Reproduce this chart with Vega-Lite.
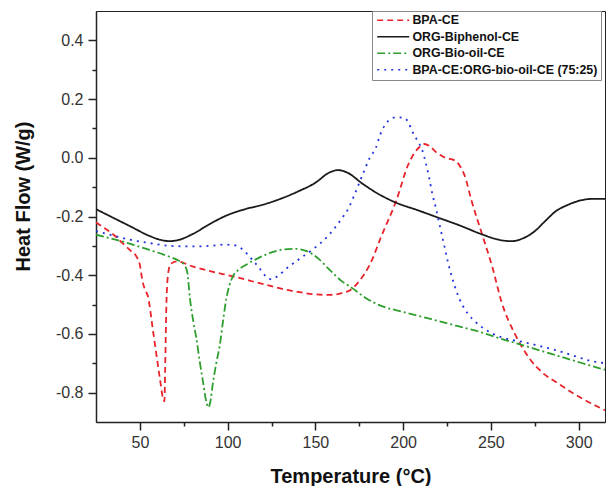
{
  "$schema": "https://vega.github.io/schema/vega-lite/v6.json",
  "width": 509,
  "height": 411,
  "autosize": {"type": "none"},
  "padding": {"left": 96, "top": 11, "right": 1, "bottom": 64},
  "background": "white",
  "config": {
    "view": {"stroke": "#222", "strokeWidth": 1},
    "axis": {
      "grid": false,
      "domainColor": "#222",
      "domainWidth": 1.5,
      "tickColor": "#222",
      "tickWidth": 1.5,
      "labelFont": "Liberation Sans",
      "labelFontSize": 16,
      "labelColor": "#333",
      "titleFont": "Liberation Sans",
      "titleFontSize": 20,
      "titleFontWeight": "bold",
      "titleColor": "#111"
    }
  },
  "data": {
    "values": [
      {"s": "BPA-CE", "T": 25, "v": -0.22},
      {"s": "BPA-CE", "T": 30, "v": -0.24},
      {"s": "BPA-CE", "T": 35, "v": -0.262},
      {"s": "BPA-CE", "T": 40, "v": -0.29},
      {"s": "BPA-CE", "T": 45, "v": -0.318},
      {"s": "BPA-CE", "T": 48, "v": -0.336},
      {"s": "BPA-CE", "T": 50, "v": -0.365},
      {"s": "BPA-CE", "T": 51.5, "v": -0.42},
      {"s": "BPA-CE", "T": 53, "v": -0.45},
      {"s": "BPA-CE", "T": 54.5, "v": -0.47},
      {"s": "BPA-CE", "T": 57.5, "v": -0.59},
      {"s": "BPA-CE", "T": 61.4, "v": -0.752},
      {"s": "BPA-CE", "T": 63.2, "v": -0.82},
      {"s": "BPA-CE", "T": 64, "v": -0.83},
      {"s": "BPA-CE", "T": 64.4, "v": -0.72},
      {"s": "BPA-CE", "T": 65.2, "v": -0.48},
      {"s": "BPA-CE", "T": 66.2, "v": -0.39},
      {"s": "BPA-CE", "T": 67.5, "v": -0.362},
      {"s": "BPA-CE", "T": 71, "v": -0.353},
      {"s": "BPA-CE", "T": 80, "v": -0.37},
      {"s": "BPA-CE", "T": 90, "v": -0.386},
      {"s": "BPA-CE", "T": 103, "v": -0.404},
      {"s": "BPA-CE", "T": 118, "v": -0.427},
      {"s": "BPA-CE", "T": 130, "v": -0.445},
      {"s": "BPA-CE", "T": 140, "v": -0.457},
      {"s": "BPA-CE", "T": 150, "v": -0.465},
      {"s": "BPA-CE", "T": 158, "v": -0.467},
      {"s": "BPA-CE", "T": 165, "v": -0.461},
      {"s": "BPA-CE", "T": 170, "v": -0.45},
      {"s": "BPA-CE", "T": 175, "v": -0.42},
      {"s": "BPA-CE", "T": 181, "v": -0.364},
      {"s": "BPA-CE", "T": 188, "v": -0.261},
      {"s": "BPA-CE", "T": 196, "v": -0.147},
      {"s": "BPA-CE", "T": 203, "v": -0.022},
      {"s": "BPA-CE", "T": 209, "v": 0.035},
      {"s": "BPA-CE", "T": 212, "v": 0.047},
      {"s": "BPA-CE", "T": 215, "v": 0.04},
      {"s": "BPA-CE", "T": 219, "v": 0.018},
      {"s": "BPA-CE", "T": 224, "v": 0.0},
      {"s": "BPA-CE", "T": 229, "v": -0.008},
      {"s": "BPA-CE", "T": 232, "v": -0.025},
      {"s": "BPA-CE", "T": 235, "v": -0.06},
      {"s": "BPA-CE", "T": 239, "v": -0.147},
      {"s": "BPA-CE", "T": 245, "v": -0.261},
      {"s": "BPA-CE", "T": 251, "v": -0.376},
      {"s": "BPA-CE", "T": 256, "v": -0.49},
      {"s": "BPA-CE", "T": 264, "v": -0.604},
      {"s": "BPA-CE", "T": 272, "v": -0.684},
      {"s": "BPA-CE", "T": 280, "v": -0.735},
      {"s": "BPA-CE", "T": 287, "v": -0.764},
      {"s": "BPA-CE", "T": 295, "v": -0.795},
      {"s": "BPA-CE", "T": 302, "v": -0.82},
      {"s": "BPA-CE", "T": 315, "v": -0.86},

      {"s": "ORG-Biphenol-CE", "T": 25, "v": -0.175},
      {"s": "ORG-Biphenol-CE", "T": 35, "v": -0.205},
      {"s": "ORG-Biphenol-CE", "T": 45, "v": -0.235},
      {"s": "ORG-Biphenol-CE", "T": 55, "v": -0.265},
      {"s": "ORG-Biphenol-CE", "T": 62, "v": -0.28},
      {"s": "ORG-Biphenol-CE", "T": 67, "v": -0.284},
      {"s": "ORG-Biphenol-CE", "T": 72, "v": -0.28},
      {"s": "ORG-Biphenol-CE", "T": 80, "v": -0.26},
      {"s": "ORG-Biphenol-CE", "T": 90, "v": -0.225},
      {"s": "ORG-Biphenol-CE", "T": 100, "v": -0.195},
      {"s": "ORG-Biphenol-CE", "T": 110, "v": -0.175},
      {"s": "ORG-Biphenol-CE", "T": 120, "v": -0.16},
      {"s": "ORG-Biphenol-CE", "T": 130, "v": -0.14},
      {"s": "ORG-Biphenol-CE", "T": 140, "v": -0.115},
      {"s": "ORG-Biphenol-CE", "T": 150, "v": -0.085},
      {"s": "ORG-Biphenol-CE", "T": 158, "v": -0.05},
      {"s": "ORG-Biphenol-CE", "T": 163, "v": -0.042},
      {"s": "ORG-Biphenol-CE", "T": 168, "v": -0.05},
      {"s": "ORG-Biphenol-CE", "T": 177, "v": -0.089},
      {"s": "ORG-Biphenol-CE", "T": 185, "v": -0.12},
      {"s": "ORG-Biphenol-CE", "T": 196, "v": -0.153},
      {"s": "ORG-Biphenol-CE", "T": 208, "v": -0.178},
      {"s": "ORG-Biphenol-CE", "T": 220, "v": -0.204},
      {"s": "ORG-Biphenol-CE", "T": 232, "v": -0.23},
      {"s": "ORG-Biphenol-CE", "T": 245, "v": -0.261},
      {"s": "ORG-Biphenol-CE", "T": 255, "v": -0.28},
      {"s": "ORG-Biphenol-CE", "T": 262, "v": -0.284},
      {"s": "ORG-Biphenol-CE", "T": 268, "v": -0.275},
      {"s": "ORG-Biphenol-CE", "T": 275, "v": -0.25},
      {"s": "ORG-Biphenol-CE", "T": 281, "v": -0.215},
      {"s": "ORG-Biphenol-CE", "T": 287, "v": -0.182},
      {"s": "ORG-Biphenol-CE", "T": 294, "v": -0.16},
      {"s": "ORG-Biphenol-CE", "T": 300, "v": -0.147},
      {"s": "ORG-Biphenol-CE", "T": 308, "v": -0.14},
      {"s": "ORG-Biphenol-CE", "T": 315, "v": -0.14},

      {"s": "ORG-Bio-oil-CE", "T": 25, "v": -0.262},
      {"s": "ORG-Bio-oil-CE", "T": 40, "v": -0.285},
      {"s": "ORG-Bio-oil-CE", "T": 55, "v": -0.313},
      {"s": "ORG-Bio-oil-CE", "T": 65, "v": -0.333},
      {"s": "ORG-Bio-oil-CE", "T": 72, "v": -0.35},
      {"s": "ORG-Bio-oil-CE", "T": 75, "v": -0.362},
      {"s": "ORG-Bio-oil-CE", "T": 77, "v": -0.39},
      {"s": "ORG-Bio-oil-CE", "T": 78.5, "v": -0.478},
      {"s": "ORG-Bio-oil-CE", "T": 80.5, "v": -0.56},
      {"s": "ORG-Bio-oil-CE", "T": 82.2, "v": -0.615},
      {"s": "ORG-Bio-oil-CE", "T": 84, "v": -0.69},
      {"s": "ORG-Bio-oil-CE", "T": 86, "v": -0.764},
      {"s": "ORG-Bio-oil-CE", "T": 88, "v": -0.835},
      {"s": "ORG-Bio-oil-CE", "T": 89, "v": -0.85},
      {"s": "ORG-Bio-oil-CE", "T": 90, "v": -0.835},
      {"s": "ORG-Bio-oil-CE", "T": 91.7, "v": -0.764},
      {"s": "ORG-Bio-oil-CE", "T": 93.5, "v": -0.7},
      {"s": "ORG-Bio-oil-CE", "T": 95.5, "v": -0.64},
      {"s": "ORG-Bio-oil-CE", "T": 97.5, "v": -0.55},
      {"s": "ORG-Bio-oil-CE", "T": 99.3, "v": -0.478},
      {"s": "ORG-Bio-oil-CE", "T": 101, "v": -0.435},
      {"s": "ORG-Bio-oil-CE", "T": 103, "v": -0.404},
      {"s": "ORG-Bio-oil-CE", "T": 106.5, "v": -0.38},
      {"s": "ORG-Bio-oil-CE", "T": 110.6, "v": -0.364},
      {"s": "ORG-Bio-oil-CE", "T": 118, "v": -0.34},
      {"s": "ORG-Bio-oil-CE", "T": 125, "v": -0.322},
      {"s": "ORG-Bio-oil-CE", "T": 132, "v": -0.312},
      {"s": "ORG-Bio-oil-CE", "T": 138, "v": -0.31},
      {"s": "ORG-Bio-oil-CE", "T": 145, "v": -0.318},
      {"s": "ORG-Bio-oil-CE", "T": 152, "v": -0.345},
      {"s": "ORG-Bio-oil-CE", "T": 158, "v": -0.381},
      {"s": "ORG-Bio-oil-CE", "T": 165, "v": -0.42},
      {"s": "ORG-Bio-oil-CE", "T": 171, "v": -0.444},
      {"s": "ORG-Bio-oil-CE", "T": 178, "v": -0.475},
      {"s": "ORG-Bio-oil-CE", "T": 186, "v": -0.501},
      {"s": "ORG-Bio-oil-CE", "T": 200, "v": -0.525},
      {"s": "ORG-Bio-oil-CE", "T": 215, "v": -0.548},
      {"s": "ORG-Bio-oil-CE", "T": 230, "v": -0.572},
      {"s": "ORG-Bio-oil-CE", "T": 243, "v": -0.592},
      {"s": "ORG-Bio-oil-CE", "T": 255, "v": -0.615},
      {"s": "ORG-Bio-oil-CE", "T": 268, "v": -0.638},
      {"s": "ORG-Bio-oil-CE", "T": 280, "v": -0.66},
      {"s": "ORG-Bio-oil-CE", "T": 290, "v": -0.678},
      {"s": "ORG-Bio-oil-CE", "T": 300, "v": -0.696},
      {"s": "ORG-Bio-oil-CE", "T": 312, "v": -0.717},
      {"s": "ORG-Bio-oil-CE", "T": 315, "v": -0.722},

      {"s": "BPA-CE:ORG-bio-oil-CE (75:25)", "T": 25, "v": -0.25},
      {"s": "BPA-CE:ORG-bio-oil-CE (75:25)", "T": 35, "v": -0.265},
      {"s": "BPA-CE:ORG-bio-oil-CE (75:25)", "T": 45, "v": -0.28},
      {"s": "BPA-CE:ORG-bio-oil-CE (75:25)", "T": 55, "v": -0.29},
      {"s": "BPA-CE:ORG-bio-oil-CE (75:25)", "T": 67, "v": -0.3},
      {"s": "BPA-CE:ORG-bio-oil-CE (75:25)", "T": 80, "v": -0.302},
      {"s": "BPA-CE:ORG-bio-oil-CE (75:25)", "T": 90, "v": -0.3},
      {"s": "BPA-CE:ORG-bio-oil-CE (75:25)", "T": 98, "v": -0.296},
      {"s": "BPA-CE:ORG-bio-oil-CE (75:25)", "T": 103, "v": -0.297},
      {"s": "BPA-CE:ORG-bio-oil-CE (75:25)", "T": 108, "v": -0.31},
      {"s": "BPA-CE:ORG-bio-oil-CE (75:25)", "T": 113, "v": -0.34},
      {"s": "BPA-CE:ORG-bio-oil-CE (75:25)", "T": 118, "v": -0.375},
      {"s": "BPA-CE:ORG-bio-oil-CE (75:25)", "T": 122, "v": -0.405},
      {"s": "BPA-CE:ORG-bio-oil-CE (75:25)", "T": 125, "v": -0.414},
      {"s": "BPA-CE:ORG-bio-oil-CE (75:25)", "T": 128, "v": -0.405},
      {"s": "BPA-CE:ORG-bio-oil-CE (75:25)", "T": 135, "v": -0.37},
      {"s": "BPA-CE:ORG-bio-oil-CE (75:25)", "T": 142, "v": -0.34},
      {"s": "BPA-CE:ORG-bio-oil-CE (75:25)", "T": 150, "v": -0.305},
      {"s": "BPA-CE:ORG-bio-oil-CE (75:25)", "T": 158, "v": -0.261},
      {"s": "BPA-CE:ORG-bio-oil-CE (75:25)", "T": 164, "v": -0.215},
      {"s": "BPA-CE:ORG-bio-oil-CE (75:25)", "T": 169, "v": -0.17},
      {"s": "BPA-CE:ORG-bio-oil-CE (75:25)", "T": 173, "v": -0.115},
      {"s": "BPA-CE:ORG-bio-oil-CE (75:25)", "T": 177, "v": -0.056},
      {"s": "BPA-CE:ORG-bio-oil-CE (75:25)", "T": 181, "v": 0.0},
      {"s": "BPA-CE:ORG-bio-oil-CE (75:25)", "T": 184.5, "v": 0.035},
      {"s": "BPA-CE:ORG-bio-oil-CE (75:25)", "T": 187, "v": 0.08},
      {"s": "BPA-CE:ORG-bio-oil-CE (75:25)", "T": 190, "v": 0.115},
      {"s": "BPA-CE:ORG-bio-oil-CE (75:25)", "T": 193, "v": 0.132},
      {"s": "BPA-CE:ORG-bio-oil-CE (75:25)", "T": 196, "v": 0.138},
      {"s": "BPA-CE:ORG-bio-oil-CE (75:25)", "T": 200.6, "v": 0.136},
      {"s": "BPA-CE:ORG-bio-oil-CE (75:25)", "T": 203, "v": 0.12},
      {"s": "BPA-CE:ORG-bio-oil-CE (75:25)", "T": 205, "v": 0.092},
      {"s": "BPA-CE:ORG-bio-oil-CE (75:25)", "T": 208, "v": 0.06},
      {"s": "BPA-CE:ORG-bio-oil-CE (75:25)", "T": 211, "v": 0.024},
      {"s": "BPA-CE:ORG-bio-oil-CE (75:25)", "T": 213, "v": -0.02},
      {"s": "BPA-CE:ORG-bio-oil-CE (75:25)", "T": 214.8, "v": -0.067},
      {"s": "BPA-CE:ORG-bio-oil-CE (75:25)", "T": 216.5, "v": -0.12},
      {"s": "BPA-CE:ORG-bio-oil-CE (75:25)", "T": 218.6, "v": -0.17},
      {"s": "BPA-CE:ORG-bio-oil-CE (75:25)", "T": 221, "v": -0.235},
      {"s": "BPA-CE:ORG-bio-oil-CE (75:25)", "T": 223.3, "v": -0.296},
      {"s": "BPA-CE:ORG-bio-oil-CE (75:25)", "T": 225.5, "v": -0.355},
      {"s": "BPA-CE:ORG-bio-oil-CE (75:25)", "T": 228, "v": -0.41},
      {"s": "BPA-CE:ORG-bio-oil-CE (75:25)", "T": 231, "v": -0.465},
      {"s": "BPA-CE:ORG-bio-oil-CE (75:25)", "T": 233.7, "v": -0.501},
      {"s": "BPA-CE:ORG-bio-oil-CE (75:25)", "T": 237, "v": -0.532},
      {"s": "BPA-CE:ORG-bio-oil-CE (75:25)", "T": 241, "v": -0.558},
      {"s": "BPA-CE:ORG-bio-oil-CE (75:25)", "T": 246, "v": -0.582},
      {"s": "BPA-CE:ORG-bio-oil-CE (75:25)", "T": 252.7, "v": -0.604},
      {"s": "BPA-CE:ORG-bio-oil-CE (75:25)", "T": 260, "v": -0.618},
      {"s": "BPA-CE:ORG-bio-oil-CE (75:25)", "T": 268, "v": -0.627},
      {"s": "BPA-CE:ORG-bio-oil-CE (75:25)", "T": 277, "v": -0.64},
      {"s": "BPA-CE:ORG-bio-oil-CE (75:25)", "T": 286.7, "v": -0.655},
      {"s": "BPA-CE:ORG-bio-oil-CE (75:25)", "T": 296, "v": -0.672},
      {"s": "BPA-CE:ORG-bio-oil-CE (75:25)", "T": 305.7, "v": -0.69},
      {"s": "BPA-CE:ORG-bio-oil-CE (75:25)", "T": 315, "v": -0.70}
    ]
  },
  "mark": {"type": "line", "interpolate": "monotone", "strokeWidth": 1.8, "clip": true},
  "encoding": {
    "x": {
      "field": "T",
      "type": "quantitative",
      "scale": {"domain": [25, 315], "nice": false, "zero": false},
      "axis": {
        "title": "Temperature (°C)",
        "values": [50, 75, 100, 125, 150, 175, 200, 225, 250, 275, 300],
        "labelExpr": "datum.value % 50 === 0 ? datum.label : ''",
        "tickSize": {"condition": {"test": "datum.value % 50 === 0", "value": 8}, "value": 4},
        "labelPadding": 4,
        "titleBaseline": "alphabetic",
        "titleY": 60
      }
    },
    "y": {
      "field": "v",
      "type": "quantitative",
      "scale": {"domain": [-0.9, 0.5], "nice": false, "zero": false},
      "axis": {
        "title": "Heat Flow (W/g)",
        "values": [-0.8, -0.7, -0.6, -0.5, -0.4, -0.3, -0.2, -0.1, 0, 0.1, 0.2, 0.3, 0.4],
        "format": ".1f",
        "labelExpr": "abs(round(datum.value * 10)) % 2 === 0 ? replace(datum.label, '\u2212', '-') : ''",
        "tickSize": {"condition": {"test": "abs(round(datum.value * 10)) % 2 === 0", "value": 8}, "value": 4},
        "labelPadding": 5,
        "titleAngle": -90,
        "titleBaseline": "alphabetic",
        "titleX": -67,
        "titleY": 185
      }
    },
    "color": {
      "field": "s",
      "type": "nominal",
      "scale": {
        "domain": ["BPA-CE", "ORG-Biphenol-CE", "ORG-Bio-oil-CE", "BPA-CE:ORG-bio-oil-CE (75:25)"],
        "range": ["#e8232a", "#1a1a1a", "#2e9e2e", "#2233dd"]
      },
      "legend": {
        "title": null,
        "orient": "none",
        "legendX": 276,
        "legendY": 0,
        "padding": 3,
        "strokeColor": "#888",
        "fillColor": "white",
        "symbolType": "M-1,0H7",
        "symbolSize": 64,
        "symbolStrokeWidth": 1.5,
        "labelOffset": 25,
        "labelFont": "Liberation Sans",
        "labelFontSize": 12.4,
        "labelFontWeight": "bold",
        "labelColor": "#111",
        "labelLimit": 400,
        "rowPadding": 3.5
      }
    },
    "strokeDash": {
      "field": "s",
      "type": "nominal",
      "scale": {
        "domain": ["BPA-CE", "ORG-Biphenol-CE", "ORG-Bio-oil-CE", "BPA-CE:ORG-bio-oil-CE (75:25)"],
        "range": [[6, 4], [1, 0], [8, 3, 2, 3], [2, 5]]
      },
      "legend": null
    }
  }
}
